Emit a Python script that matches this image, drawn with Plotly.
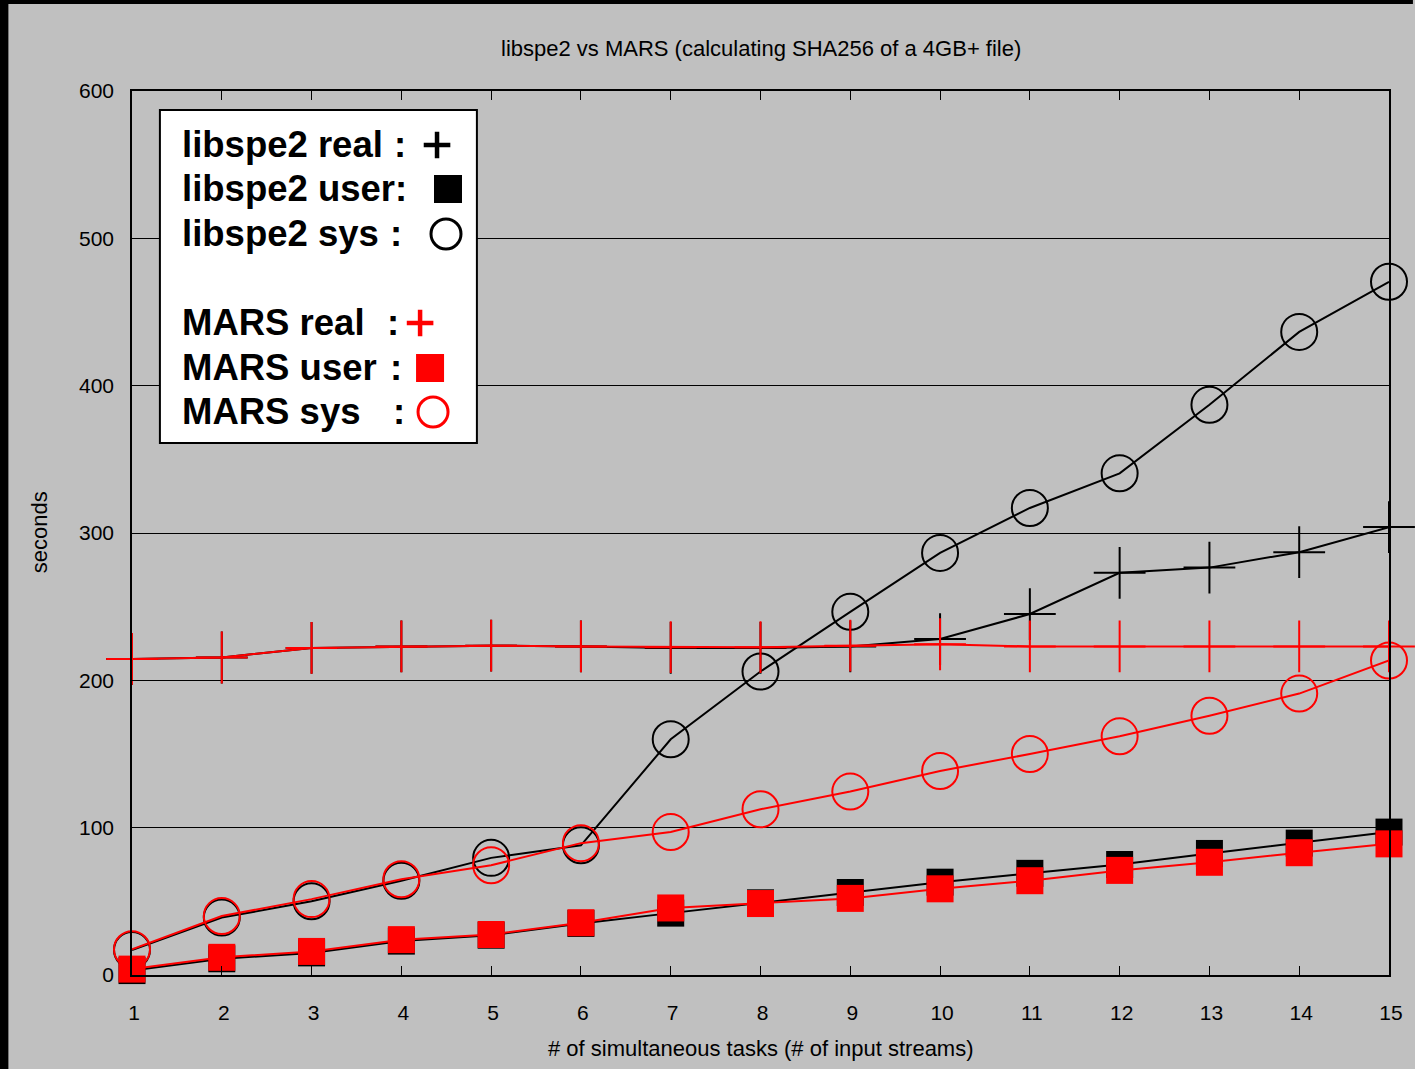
import plotly.graph_objects as go

# ---------------- data ----------------
tasks = list(range(1, 16))
libspe2_real = [214.5, 215.5, 222, 223, 223.5, 223, 222, 222, 223, 228, 245, 273, 276.5, 287, 304]
libspe2_user = [3, 11, 15, 23, 27, 35, 42, 49, 56, 63, 69, 75, 82.5, 89.5, 97]
libspe2_sys = [17, 39, 50, 64, 79.5, 88, 160, 206, 246.5, 286.5, 317, 340.5, 387, 436.5, 470.5]
mars_real = [214.5, 215.5, 222, 223, 223.5, 223, 222.5, 222.5, 223.5, 224.5, 223, 223, 223, 223, 223]
mars_user = [4, 12, 16, 24, 27.5, 35.5, 45.5, 48.5, 52, 58.5, 64, 71, 76.5, 83, 89]
mars_sys = [17.5, 40, 51.5, 65, 74.5, 89.5, 97, 112.5, 124.5, 138.5, 150, 162, 176, 191, 213.5]

y_ticks = [0, 100, 200, 300, 400, 500, 600]

title = "libspe2 vs MARS (calculating SHA256 of a 4GB+ file)"
x_title = "# of simultaneous tasks (# of input streams)"
y_title = "seconds"

legend_labels = ["libspe2 real", "libspe2 user:", "libspe2 sys", "MARS real", "MARS user", "MARS sys"]

# ---------------- layout geometry ----------------
W, H = 1415, 1069
L, R, T, B = 132, 1393, 91, 975
XMIN, XMAX, YMIN, YMAX = 1, 15, 0, 600


def px2x(px):
    return XMIN + (px - L) * (XMAX - XMIN) / (R - L)


def py2y(py):
    return YMIN + (B - py) * (YMAX - YMIN) / (B - T)


def pxp(px):
    return (px - L) / (R - L)


def pyp(py):
    return (B - py) / (B - T)


BLACK = "#000000"
RED = "#ff0000"
BG = "#c0c0c0"
FONT = "Liberation Sans, Arial, sans-serif"

fig = go.Figure()


def add_series(y, color, symbol, size, lw=2):
    fig.add_trace(go.Scatter(
        x=tasks, y=y, mode="lines+markers",
        line=dict(color=color, width=2),
        marker=dict(symbol=symbol, size=size, color=color,
                    line=dict(color=color, width=lw)),
        cliponaxis=False, showlegend=False, hoverinfo="x+y",
    ))


add_series(libspe2_real, BLACK, "cross-thin-open", 37)
add_series(libspe2_user, BLACK, "square", 27, 0)
add_series(libspe2_sys, BLACK, "circle-open", 36)
add_series(mars_real, RED, "cross-thin-open", 37)
add_series(mars_user, RED, "square", 27, 0)
add_series(mars_sys, RED, "circle-open", 36)

# ---------------- legend box (manual, gnuplot style) ----------------
shapes = [
    dict(type="rect", xref="x", yref="y", x0=px2x(160), x1=px2x(478), y0=py2y(443), y1=py2y(110),
         fillcolor="white", line=dict(color=BLACK, width=2), layer="between"),
    # black frame on left/top of the picture
    dict(type="rect", xref="paper", yref="paper", x0=pxp(-2), x1=pxp(8), y0=pyp(H + 2), y1=pyp(-2),
         fillcolor=BLACK, line=dict(width=0), layer="above"),
    dict(type="rect", xref="paper", yref="paper", x0=pxp(-2), x1=pxp(W + 2), y0=pyp(4), y1=pyp(-2),
         fillcolor=BLACK, line=dict(width=0), layer="above"),
]

row_py = [144, 188, 233, 322, 367, 411]
colon_px = [401, None, 397, 394, 397, 400]
sym_px = [438, 449, 447, 421, 431, 434]
sym_symbol = ["cross-thin-open", "square", "circle-open", "cross-thin-open", "square", "circle-open"]
sym_color = [BLACK, BLACK, BLACK, RED, RED, RED]
sym_size = [19, 28, 30, 19, 28, 30]
sym_lw = [4.5, 0, 3, 4.5, 0, 3]

annotations = []
for i, lab in enumerate(legend_labels):
    annotations.append(dict(x=px2x(180), y=py2y(row_py[i]), xref="x", yref="y", text="<b>%s</b>" % lab,
                            showarrow=False, xanchor="left", yanchor="middle",
                            font=dict(family=FONT, size=36.5, color=BLACK)))
    if colon_px[i] is not None:
        annotations.append(dict(x=px2x(colon_px[i]), y=py2y(row_py[i]), xref="x", yref="y", text="<b>:</b>",
                                showarrow=False, xanchor="center", yanchor="middle",
                                font=dict(family=FONT, size=36.5, color=BLACK)))

for i in range(6):
    fig.add_trace(go.Scatter(
        x=[px2x(sym_px[i])], y=[py2y(row_py[i] + 1)], mode="markers",
        marker=dict(symbol=sym_symbol[i], size=sym_size[i], color=sym_color[i],
                    line=dict(color=sym_color[i], width=sym_lw[i])),
        cliponaxis=False, showlegend=False, hoverinfo="skip",
    ))

# titles
annotations.append(dict(x=0.5, y=pyp(49), xref="paper", yref="paper", text=title, showarrow=False,
                        xanchor="center", yanchor="middle", font=dict(family=FONT, size=22, color=BLACK)))
annotations.append(dict(x=0.5, y=pyp(1048), xref="paper", yref="paper", text=x_title, showarrow=False,
                        xanchor="center", yanchor="middle", font=dict(family=FONT, size=22, color=BLACK)))
annotations.append(dict(x=pxp(39), y=pyp(532), xref="paper", yref="paper", text=y_title, showarrow=False,
                        textangle=-90, xanchor="center", yanchor="middle",
                        font=dict(family=FONT, size=22, color=BLACK)))

fig.update_layout(
    width=W, height=H, autosize=False,
    margin=dict(l=L, r=W - R, t=T, b=H - B, pad=0),
    paper_bgcolor=BG, plot_bgcolor=BG,
    font=dict(family=FONT, size=21, color=BLACK),
    shapes=shapes, annotations=annotations,
    showlegend=False,
    xaxis=dict(range=[XMIN, XMAX], tickmode="array", tickvals=tasks, ticktext=[str(t) for t in tasks],
               showgrid=False, zeroline=False, showline=True, linecolor=BLACK, linewidth=1.5, mirror="ticks",
               ticks="inside", ticklen=9, tickwidth=1.2, tickcolor=BLACK,
               tickfont=dict(family=FONT, size=21, color=BLACK), ticklabelstandoff=18, ticklabelshift=2),
    yaxis=dict(range=[YMIN, YMAX], tickmode="array", tickvals=y_ticks, ticktext=[str(v) for v in y_ticks],
               showgrid=True, gridcolor=BLACK, gridwidth=1, zeroline=False, showline=True, linecolor=BLACK,
               linewidth=1.5, mirror="ticks", ticks="inside", ticklen=9, tickwidth=1.2, tickcolor=BLACK,
               tickfont=dict(family=FONT, size=21, color=BLACK), ticklabelstandoff=12),
)

fig.write_html("out.html", config={"displayModeBar": False, "responsive": False},
               default_width="1415px", default_height="1069px",
               post_script="document.body.style.margin='0';document.body.style.overflow='hidden';")
